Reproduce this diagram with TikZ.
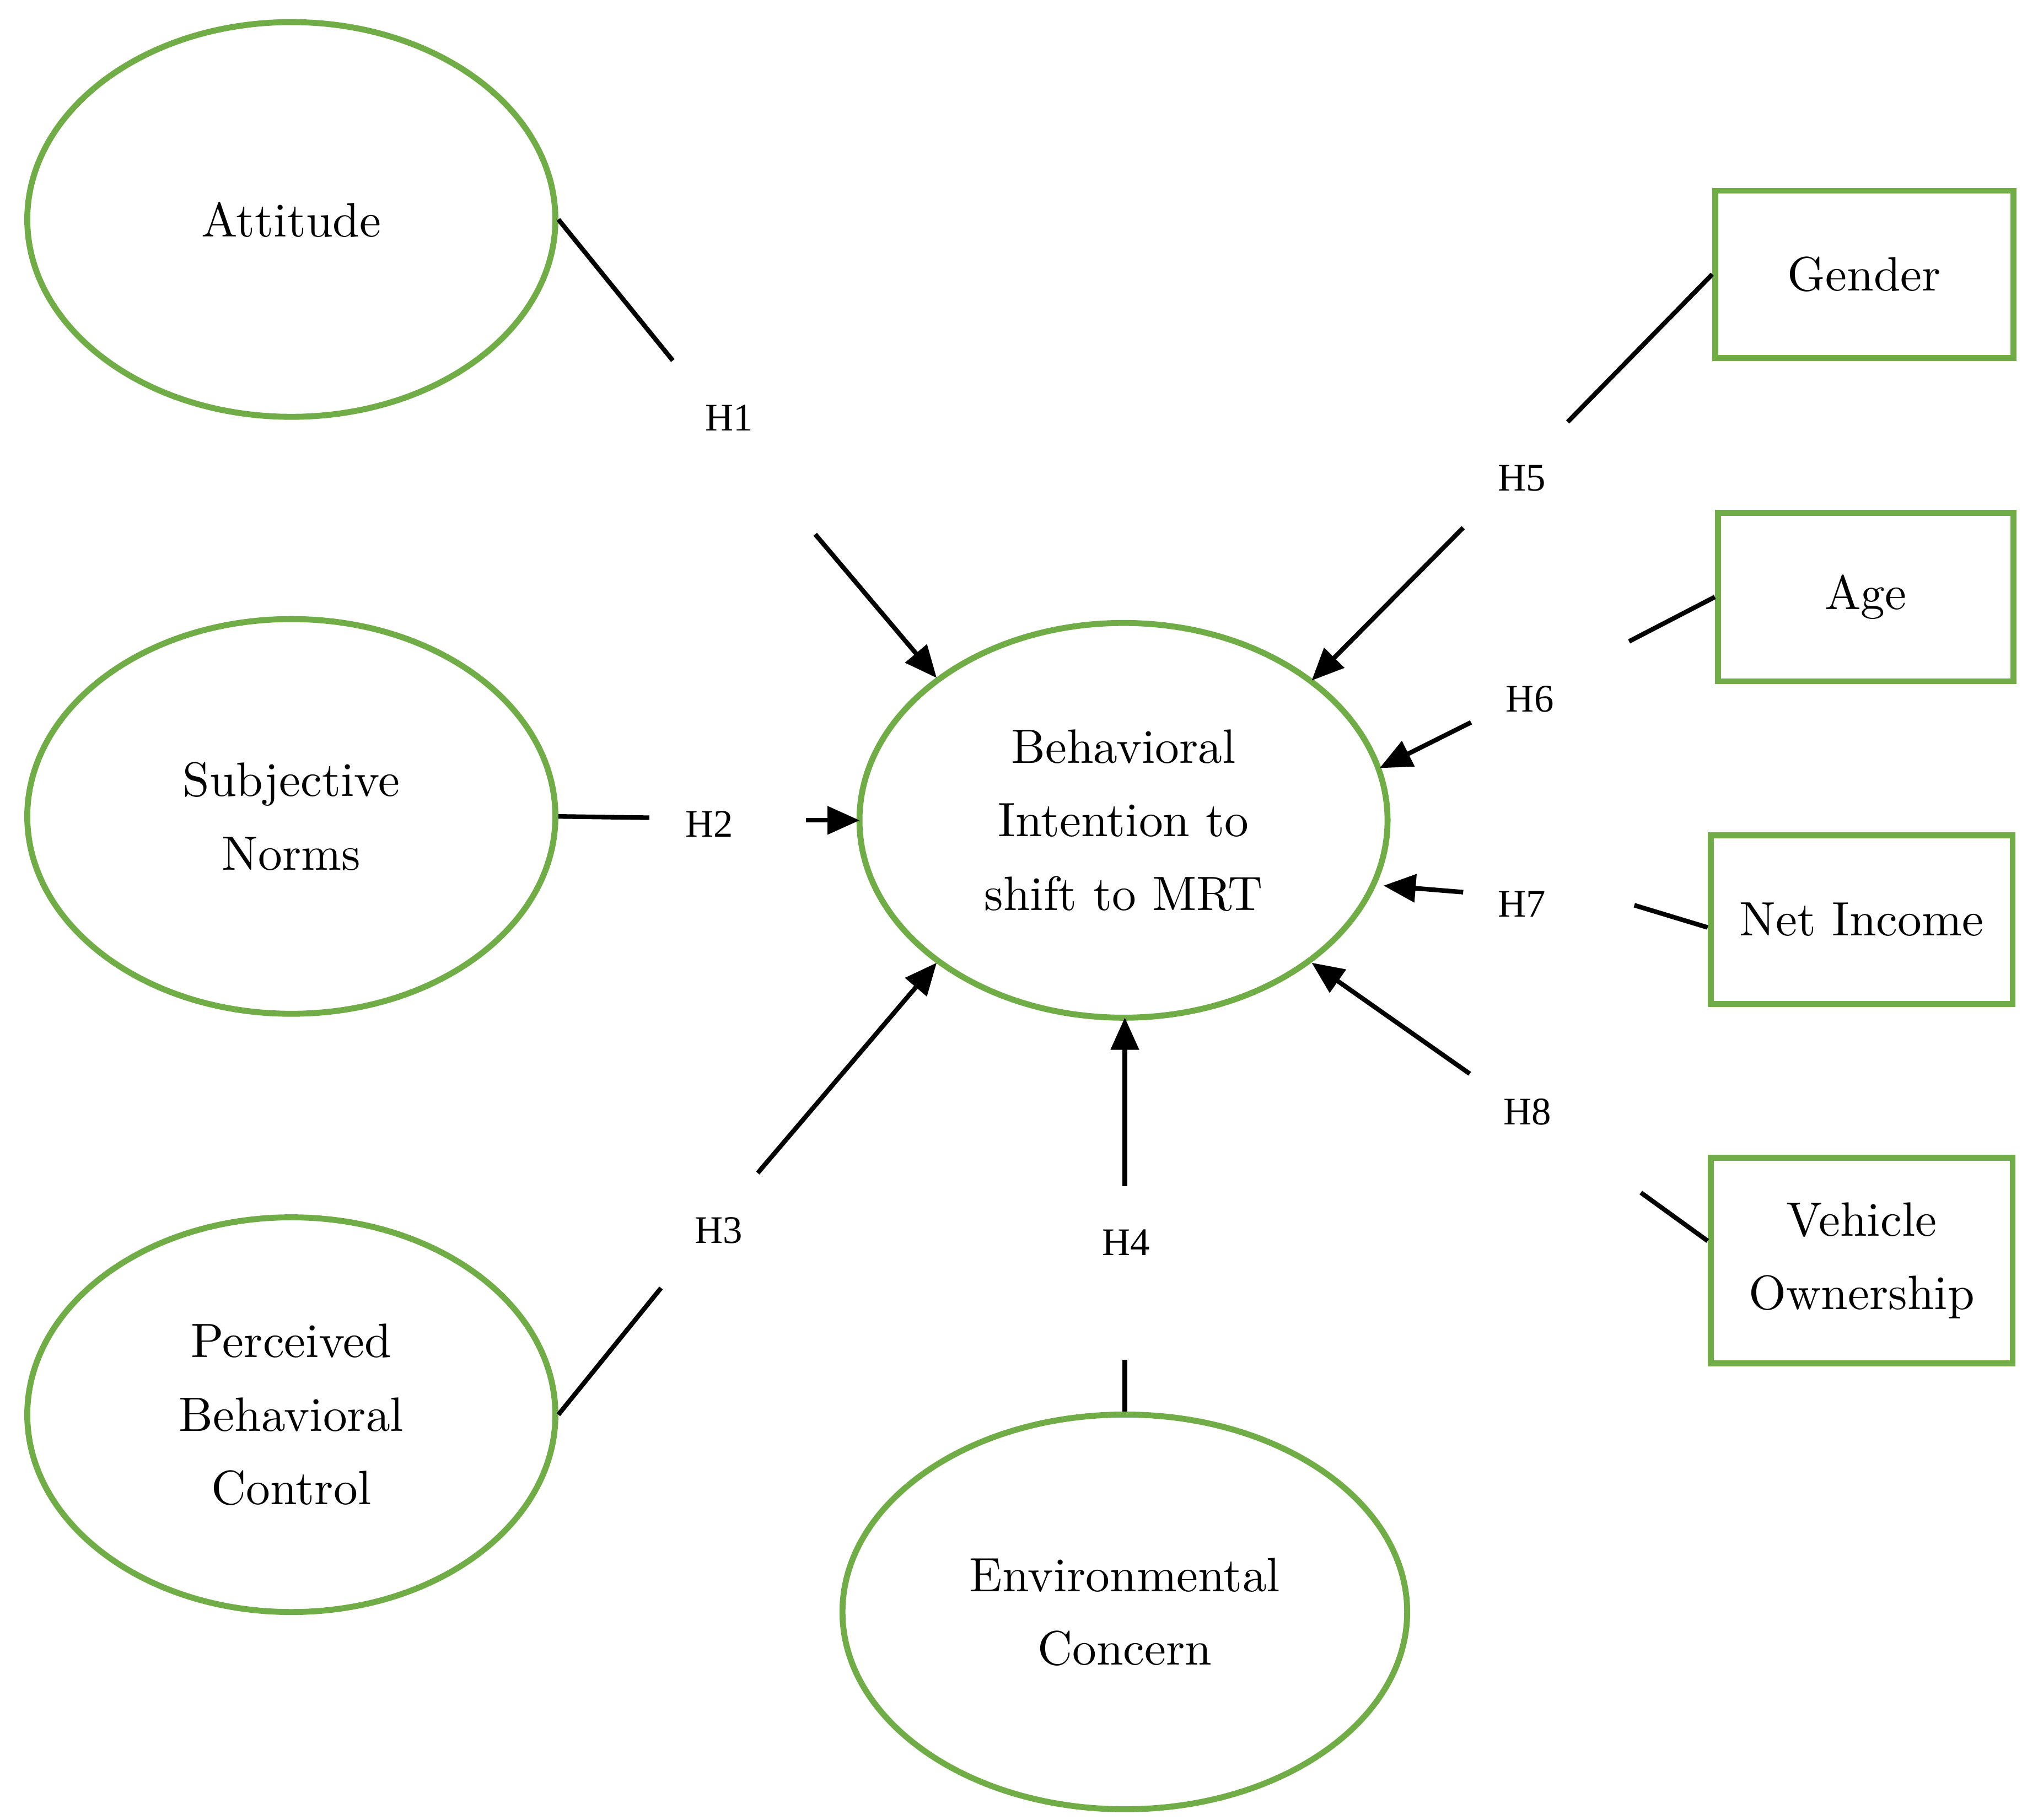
\documentclass[tikz,border=0pt]{standalone}
\usepackage{fontspec}
\newfontfamily\hfont{Liberation Serif}
\usetikzlibrary{shapes.geometric,arrows.meta}
\definecolor{grn}{RGB}{112,173,71}
\begin{document}
\begin{tikzpicture}[x=0.01cm,y=-0.01cm,
 ell/.style={draw=grn,line width=1.3pt,ellipse,inner sep=0pt,align=center,font=\fontsize{10.5}{16}\selectfont},
 box/.style={draw=grn,line width=1.3pt,rectangle,inner sep=0pt,align=center,font=\fontsize{10.5}{16}\selectfont},
 hl/.style={font=\hfont\fontsize{8.5}{10}\selectfont},
 ln/.style={line width=1pt},
 ar/.style={line width=1pt,-{Triangle[length=7pt,width=6pt]}}]
\useasboundingbox (0,0) rectangle (1560,1393);
\node[ell,minimum width=404\pgflinewidth/1.3,minimum width=4.04cm,minimum height=3.02cm] (att) at (223,168) {Attitude};
\node[ell,minimum width=4.04cm,minimum height=3.02cm] (sn) at (223,625) {Subjective\\Norms};
\node[ell,minimum width=4.04cm,minimum height=3.02cm] (pbc) at (223,1083) {Perceived\\Behavioral\\Control};
\node[ell,minimum width=4.04cm,minimum height=3.02cm] (bi) at (860,628) {Behavioral\\Intention to\\shift to MRT};
\node[ell,minimum width=4.32cm,minimum height=3.02cm] (ec) at (861,1234) {Environmental\\Concern};
\node[box,minimum width=2.28cm,minimum height=1.28cm] (gen) at (1427,210) {Gender};
\node[box,minimum width=2.26cm,minimum height=1.29cm] (age) at (1428,457) {Age};
\node[box,minimum width=2.31cm,minimum height=1.29cm] (inc) at (1425,704) {Net Income};
\node[box,minimum width=2.31cm,minimum height=1.57cm] (veh) at (1425,965) {Vehicle\\Ownership};
% labels
\node[hl] (h1) at (558,320) {H1};
\node[hl] (h2) at (543,631) {H2};
\node[hl] (h3) at (550,942) {H3};
\node[hl] (h4) at (862,951) {H4};
\node[hl] (h5) at (1165,366) {H5};
\node[hl] (h6) at (1171,535) {H6};
\node[hl] (h7) at (1165,692) {H7};
\node[hl] (h8) at (1169,851) {H8};
% free ends
\coordinate (a1) at (515,276); \coordinate (b1) at (624,409); \coordinate (e1) at (717,519);
\coordinate (a2) at (497,626); \coordinate (b2) at (617,628); \coordinate (e2) at (658,628);
\coordinate (a3) at (506,986); \coordinate (b3) at (580,898); \coordinate (e3) at (717,737);
\coordinate (a4) at (861,1041); \coordinate (b4) at (861,908); \coordinate (e4) at (861,779);
\coordinate (a5) at (1200,323); \coordinate (b5) at (1120,404); \coordinate (e5) at (1004,521);
\coordinate (a6) at (1247,491); \coordinate (b6) at (1126,553); \coordinate (e6) at (1056,588);
\coordinate (a7) at (1251,693); \coordinate (b7) at (1120,683); \coordinate (e7) at (1059,678);
\coordinate (a8) at (1256,913); \coordinate (b8) at (1125,822); \coordinate (e8) at (1004,737);
\draw[ln] (att.east) -- (a1); \draw[ar] (b1) -- (e1);
\draw[ln] (sn.east) -- (a2); \draw[ar] (b2) -- (e2);
\draw[ln] (pbc.east) -- (a3); \draw[ar] (b3) -- (e3);
\draw[ln] (ec.north) -- (a4); \draw[ar] (b4) -- (e4);
\draw[ln] (gen.west) -- (a5); \draw[ar] (b5) -- (e5);
\draw[ln] (age.west) -- (a6); \draw[ar] (b6) -- (e6);
\draw[ln] ([yshift=-0.06cm]inc.west) -- (a7); \draw[ar] (b7) -- (e7);
\draw[ln] ([yshift=0.15cm]veh.west) -- (a8); \draw[ar] (b8) -- (e8);
\end{tikzpicture}
\end{document}
